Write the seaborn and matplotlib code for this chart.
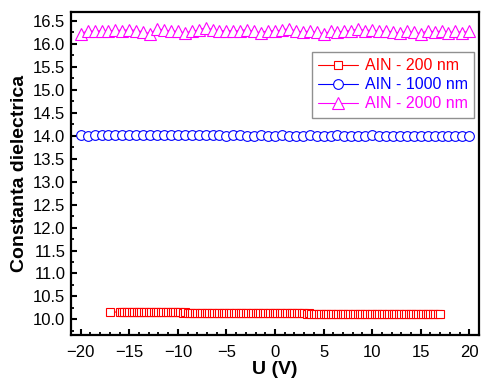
import numpy as np
import pandas as pd
import matplotlib
matplotlib.use("Agg")
import matplotlib.pyplot as plt
from matplotlib.ticker import MultipleLocator, FormatStrFormatter
import seaborn as sns

# ---------------- data ----------------
# AlN 200 nm : bias sweep -17 V, then -16 .. 17 V every 0.25 V
u_200 = np.concatenate([[-17.0], np.arange(-16.0, 17.01, 0.25)])
k_200 = [
    10.16, 10.16, 10.16, 10.16, 10.16, 10.16, 10.16, 10.16, 10.16, 10.16,
    10.16, 10.16, 10.15, 10.15, 10.16, 10.15, 10.15, 10.15, 10.15, 10.15,
    10.15, 10.15, 10.15, 10.15, 10.15, 10.15, 10.15, 10.14, 10.15, 10.14,
    10.14, 10.14, 10.14, 10.14, 10.14, 10.14, 10.14, 10.14, 10.14, 10.14,
    10.14, 10.14, 10.14, 10.14, 10.14, 10.14, 10.13, 10.14, 10.14, 10.14,
    10.14, 10.13, 10.13, 10.13, 10.13, 10.13, 10.13, 10.13, 10.13, 10.13,
    10.13, 10.13, 10.13, 10.13, 10.13, 10.13, 10.13, 10.13, 10.13, 10.13,
    10.13, 10.13, 10.13, 10.13, 10.13, 10.13, 10.13, 10.13, 10.12, 10.13,
    10.12, 10.12, 10.12, 10.12, 10.12, 10.12, 10.12, 10.12, 10.12, 10.12,
    10.12, 10.12, 10.12, 10.12, 10.12, 10.12, 10.12, 10.12, 10.12, 10.12,
    10.12, 10.12, 10.12, 10.12, 10.12, 10.12, 10.12, 10.12, 10.12, 10.11,
    10.12, 10.12, 10.11, 10.11, 10.11, 10.11, 10.11, 10.11, 10.11, 10.11,
    10.11, 10.11, 10.11, 10.11, 10.11, 10.11, 10.11, 10.11, 10.11, 10.11,
    10.11, 10.11, 10.11, 10.11,
]

# AlN 1000 nm and 2000 nm : -20 .. 20 V, 57 points
u_thick = np.linspace(-20, 20, 57)
k_1000 = [
    14.01, 14.00, 14.01, 14.01, 14.01, 14.01, 14.02, 14.01, 14.01, 14.02,
    14.01, 14.01, 14.02, 14.01, 14.01, 14.02, 14.01, 14.01, 14.01, 14.01,
    14.01, 14.00, 14.01, 14.01, 14.00, 14.00, 14.01, 14.00, 14.00, 14.01,
    14.00, 14.00, 14.00, 14.01, 14.00, 14.00, 14.00, 14.01, 14.00, 14.00,
    14.00, 14.00, 14.01, 14.00, 13.99, 14.00, 14.00, 13.99, 14.00, 13.99,
    13.99, 14.00, 13.99, 13.99, 14.00, 13.99, 14.00,
]
k_2000 = [
    16.21, 16.29, 16.27, 16.29, 16.28, 16.30, 16.29, 16.31, 16.29, 16.26,
    16.22, 16.33, 16.30, 16.28, 16.27, 16.24, 16.27, 16.30, 16.35, 16.31,
    16.28, 16.29, 16.28, 16.29, 16.31, 16.27, 16.24, 16.29, 16.28, 16.30,
    16.33, 16.28, 16.26, 16.28, 16.25, 16.22, 16.27, 16.25, 16.28, 16.29,
    16.32, 16.29, 16.30, 16.27, 16.28, 16.26, 16.23, 16.27, 16.25, 16.22,
    16.29, 16.26, 16.28, 16.23, 16.28, 16.24, 16.28,
]

labels = ["AIN - 200 nm", "AIN - 1000 nm", "AIN - 2000 nm"]
colors = ["#ff0000", "#0000ff", "#ff00ff"]
markers = ["s", "o", "^"]
sizes = [6.2, 7.0, 8.0]

series = [
    pd.DataFrame({"U": u_200, "k": k_200}),
    pd.DataFrame({"U": u_thick, "k": k_1000}),
    pd.DataFrame({"U": u_thick, "k": k_2000}),
]

# ---------------- style ----------------
sns.set_style("ticks")
plt.rcParams["font.family"] = ["Liberation Sans", "DejaVu Sans"]
plt.rcParams["text.color"] = "black"
plt.rcParams["axes.labelcolor"] = "black"
plt.rcParams["xtick.color"] = "black"
plt.rcParams["ytick.color"] = "black"

fig = plt.figure(figsize=(4.85, 3.89), dpi=100)
ax = fig.add_axes([71 / 485, 1 - 335 / 389, 408 / 485, 323.3 / 389])

for df, lab, col, mk, ms in zip(series, labels, colors, markers, sizes):
    sns.lineplot(
        data=df, x="U", y="k", ax=ax,
        estimator=None, sort=False,
        color=col, linewidth=0.8,
        marker=mk, markersize=ms,
        markerfacecolor="white", markeredgecolor=col, markeredgewidth=0.8,
        label=lab,
    )

ax.set_xlim(-21, 21)
ax.set_ylim(9.66, 16.70)
ax.xaxis.set_major_locator(MultipleLocator(5))
ax.xaxis.set_minor_locator(MultipleLocator(1))
ax.yaxis.set_major_locator(MultipleLocator(0.5))
ax.yaxis.set_minor_locator(MultipleLocator(0.25))
ax.yaxis.set_major_formatter(FormatStrFormatter("%.1f"))

ax.tick_params(axis="both", which="major", direction="in", length=4,
               width=1.5, labelsize=12, colors="black", pad=4)
ax.tick_params(axis="x", which="major", pad=7)
ax.tick_params(axis="both", which="minor", direction="in", length=2.2,
               width=1.3, colors="black")
ax.tick_params(top=False, right=False, which="both")
for sp in ax.spines.values():
    sp.set_visible(True)
    sp.set_linewidth(1.6)
    sp.set_color("black")

ax.set_xlabel("U (V)", fontsize=14, fontweight="bold", labelpad=1)
ax.set_ylabel("Constanta dielectrica", fontsize=14, fontweight="bold", labelpad=4)

leg = ax.legend(
    loc="upper right", bbox_to_anchor=(0.988, 0.876), borderaxespad=0,
    fontsize=11.5, frameon=True, fancybox=False, framealpha=1,
    edgecolor="#909090", handlelength=2.5, handletextpad=0.4,
    labelspacing=0.25, borderpad=0.4, labelcolor="linecolor",
)
leg.get_frame().set_linewidth(1.0)

fig.savefig("out.png", dpi=100)
